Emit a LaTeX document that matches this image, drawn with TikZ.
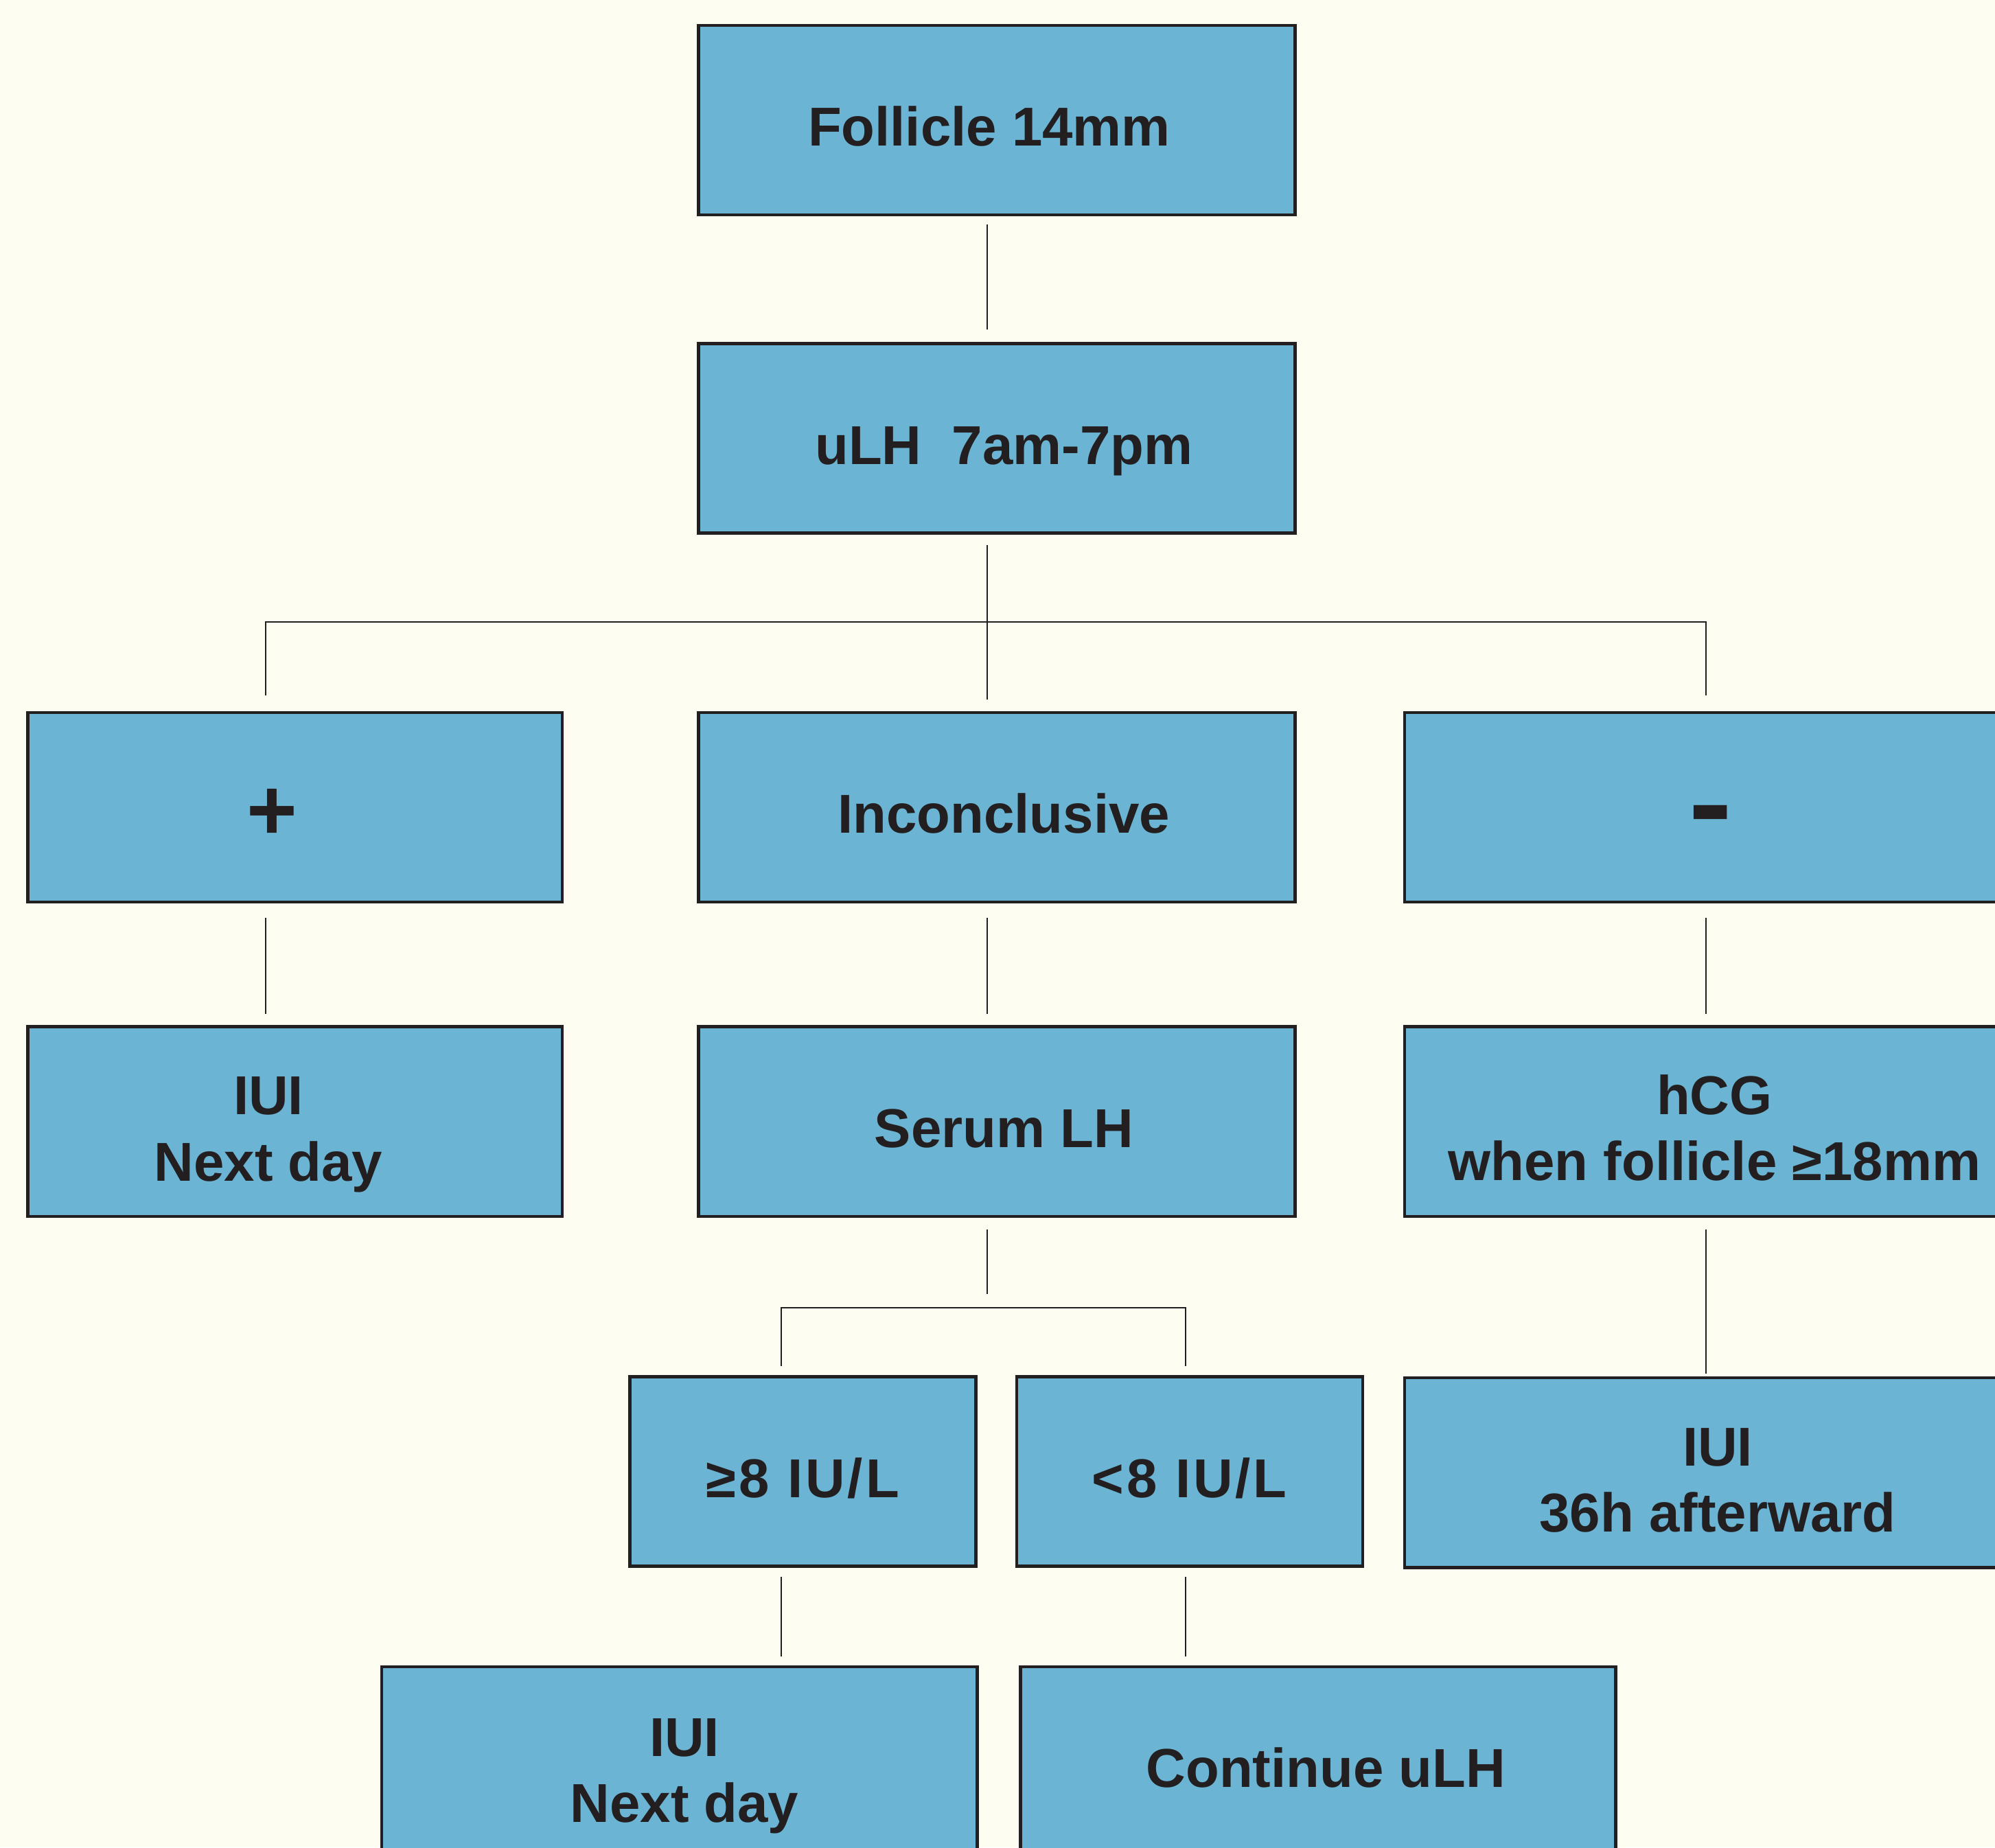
\documentclass[tikz,border=0pt]{standalone}
\usepackage{fontspec}
\setmainfont{Liberation Sans}
\definecolor{bgcream}{HTML}{FDFDF2}
\definecolor{boxblue}{HTML}{6BB4D3}
\definecolor{ink}{HTML}{231F20}

\begin{document}
\begin{tikzpicture}[
    flowbox/.style={draw=ink, fill=boxblue, line width=0.7pt, minimum height=1.49cm, inner sep=0pt},
    widebox/.style={flowbox, minimum width=4.69cm},
    sidebox/.style={flowbox, minimum width=4.20cm},
    smallbox/.style={flowbox, minimum width=2.72cm},
    boxtext/.style={font=\fontsize{12.25}{14.8}\selectfont\bfseries, text=ink, align=center},
    onetext/.style={boxtext, text height=14.7pt, text depth=3.1pt},
    spaced/.style={onetext, font=\fontsize{12.25}{14.8}\selectfont\bfseries\addfontfeature{LetterSpace=5}},
    link/.style={draw=ink, line width=0.35pt}
  ]
  % background
  \fill[bgcream] (0,0) rectangle (15.68,-14.52);
  \useasboundingbox (0,0) rectangle (15.68,-14.52);
  \clip (0,0) rectangle (15.68,-14.52);

  % columns of the connectors
  \coordinate (colL) at (2.09,0);
  \coordinate (colM) at (7.76,0);
  \coordinate (colR) at (13.41,0);
  \coordinate (colA) at (6.14,0);
  \coordinate (colB) at (9.32,0);
  \coordinate (bar1) at (7.76,-4.89);
  \coordinate (bar2) at (7.76,-10.28);

  % boxes
  \node[widebox, label={[onetext, xshift=-0.06cm]center:Follicle 14mm}] (foll) at (7.835,-0.945) {};
  \node[widebox, label={[onetext, xshift=0.055cm]center:uLH~~7am-7pm}] (ulh) at (7.835,-3.445) {};

  \node[sidebox, label={[boxtext, font=\fontsize{19.4}{22}\selectfont\bfseries, xshift=-0.18cm, yshift=-0.055cm]center:+}] (plus) at (2.32,-6.345) {};
  \node[widebox, label={[onetext, xshift=0.055cm]center:Inconclusive}] (incon) at (7.835,-6.345) {};
  \node[widebox, label={[boxtext, font=\fontsize{15}{18}\selectfont\bfseries, xshift=0.06cm, yshift=-0.16cm]center:\scalebox{1}[2.1]{–}}] (neg) at (13.385,-6.345) {};

  \node[sidebox, label={[boxtext, xshift=-0.21cm, yshift=-0.104cm]center:{IUI\\Next day}}] (iuiL) at (2.32,-8.815) {};
  \node[widebox, label={[onetext, xshift=0.055cm]center:Serum LH}] (serum) at (7.835,-8.815) {};
  \node[widebox, label={[boxtext, xshift=0.09cm, yshift=-0.05cm]center:{hCG\\when follicle ≥18mm}}] (hcg) at (13.385,-8.815) {};

  \node[smallbox, label={[spaced]center:≥8 IU/L}] (ge) at (6.31,-11.565) {};
  \node[smallbox, label={[spaced]center:<8 IU/L}] (lt) at (9.35,-11.565) {};
  \node[widebox, label={[boxtext, xshift=0.115cm, yshift=-0.06cm]center:{IUI\\36h afterward}}] (iui36) at (13.385,-11.575) {};

  \node[widebox, minimum width=4.68cm, label={[boxtext, xshift=0.04cm, yshift=-0.114cm]center:{IUI\\Next day}}] (iuiB) at (5.34,-13.845) {};
  \node[widebox, minimum width=4.68cm, label={[onetext, xshift=0.06cm]center:Continue uLH}] (cont) at (10.36,-13.845) {};

  % links
  \draw[link, shorten <=0.06cm, shorten >=0.10cm] (foll.south -| colM) -- (ulh.north -| colM);
  \draw[link, shorten <=0.08cm, shorten >=0.09cm] (ulh.south -| colM) -- (incon.north -| colM);
  \draw[link, shorten <=0.12cm, shorten >=0.12cm] (plus.north -| colL) |- (bar1) -| (neg.north -| colR);
  \foreach \a/\b/\c in {plus/iuiL/colL, incon/serum/colM, neg/hcg/colR}
    \draw[link, shorten <=0.11cm, shorten >=0.09cm] (\a.south -| \c) -- (\b.north -| \c);
  \draw[link, shorten <=0.09cm, shorten >=0.11cm] (serum.south -| colM) -- (bar2);
  \draw[link, shorten <=0.07cm, shorten >=0.07cm] (ge.north -| colA) |- (bar2) -| (lt.north -| colB);
  \draw[link, shorten <=0.09cm, shorten >=0.02cm] (hcg.south -| colR) -- (iui36.north -| colR);
  \draw[link, shorten <=0.07cm, shorten >=0.07cm] (ge.south -| colA) -- (iuiB.north -| colA);
  \draw[link, shorten <=0.07cm, shorten >=0.07cm] (lt.south -| colB) -- (cont.north -| colB);
\end{tikzpicture}
\end{document}
